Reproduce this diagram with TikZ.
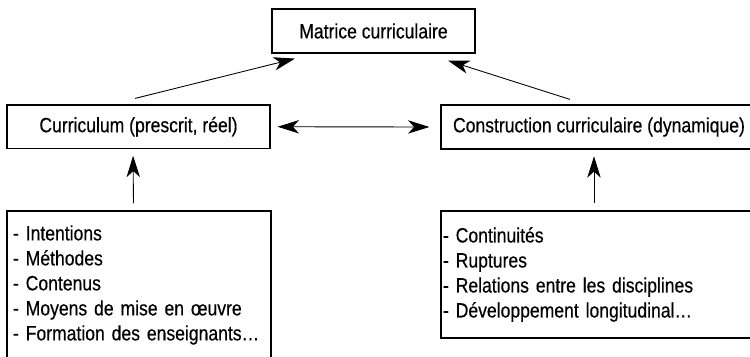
\documentclass[tikz,border=0pt]{standalone}
\usepackage{fontspec}
\setmainfont[FakeStretch=0.85,FakeBold=0.4]{Liberation Sans}
\usepackage{tikz}
\usetikzlibrary{arrows.meta}
\usetikzlibrary{positioning}
\tikzset{box/.style={draw, line width=0.9pt, inner sep=0pt, font=\fontsize{15.5pt}{18.75pt}\selectfont}}
\tikzset{listbox/.style={box, align=left, anchor=center}}
\tikzset{link/.style={line width=0.65pt, -{Stealth[length=16pt,width=10pt,inset=4.5pt]}}}
\tikzset{bilink/.style={line width=0.65pt, {Stealth[length=16pt,width=10pt,inset=4.5pt]}-{Stealth[length=16pt,width=10pt,inset=4.5pt]}}}

\begin{document}
\begin{tikzpicture}[x=0.75pt,y=-0.75pt]
{
\useasboundingbox (0,0) rectangle (750,357);
\node[box, minimum width=152.25pt, minimum height=33pt] (matrice) at (373.5,31) {Matrice curriculaire};
\node[box, minimum width=197.25pt, minimum height=32.6pt] (curr) at (138.5,126.75) {Curriculum (prescrit, réel)};
\node[box, minimum width=237pt, minimum height=33pt] (constr) at (599,127) {Construction curriculaire (dynamique)};
\node[listbox, text width=189pt, inner xsep=4.5pt, minimum height=111pt] (leftlist) at (139,285)
  {- Intentions\\- Méthodes\\- Contenus\\- Moyens de mise en œuvre\\- Formation des enseignants…};
\node[listbox, text width=234pt, inner xsep=1.5pt, minimum height=95.25pt] (rightlist) at (599,274.5)
  {- Continuités\\- Ruptures\\- Relations entre les disciplines\\- Développement longitudinal…};
% vers la matrice
\draw[link] ([xshift=-2.6pt,yshift=4.5pt]curr.north) -- ([xshift=-58.9pt,yshift=-3.75pt]matrice.south);
\draw[link] ([xshift=-21.75pt,yshift=3.75pt]constr.north) -- ([xshift=55.9pt,yshift=-5.25pt]matrice.south);
\draw[bilink, shorten <=5.25pt, shorten >=8.25pt] (curr.east) -- (constr.west);
% listes
\draw[link, shorten <=5.25pt, shorten >=5pt] ([xshift=-4.1pt]leftlist.north) -- ([xshift=-4.1pt]curr.south);
\draw[link, shorten <=5.25pt, shorten >=5pt] ([xshift=-3.75pt]rightlist.north) -- ([xshift=-3.75pt]constr.south);
}
\end{tikzpicture}
\end{document}
